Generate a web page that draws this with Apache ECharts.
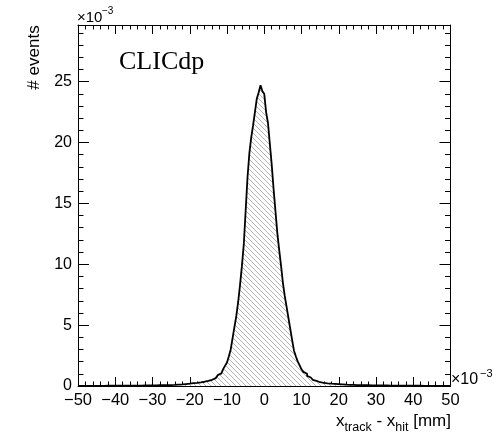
<!DOCTYPE html>
<html><head><meta charset="utf-8">
<script src="https://cdn.jsdelivr.net/npm/echarts@6/dist/echarts.min.js"></script>
<style>html,body{margin:0;padding:0;background:#fff}#c{width:497px;height:433px}</style>
</head><body><div id="c"></div>
<script>
// Histogram: bins of width 0.5 (x10^-3 mm) from -50 to 50; contents in units of 10^-3
const binLow = -50;
const binWidth = 0.5;
const countsNeg = [
  0.01,0.01,0.01,0.01,0.01,0.01,0.01,0.01,0.01,0.01,0.01,0.01,0.01,0.01,0.02,0.02,0.02,0.02,0.02,0.02,
  0.02,0.02,0.02,0.02,0.02,0.02,0.02,0.03,0.03,0.03,
  0.03,0.03,0.03,0.03,0.04,0.04,0.04,0.04,0.04,0.05,
  0.05,0.05,0.05,0.06,0.06,0.06,0.07,0.07,0.08,0.08,
  0.09,0.09,0.10,0.11,0.12,0.13,0.15,0.16,0.18,0.19,
  0.21,0.23,0.24,0.26,0.28,0.30,0.33,0.35,0.38,0.42,
  0.46,0.51,0.57,0.65,0.75,0.89,1.04,1.20,1.41,1.67,
  1.93,2.44,3.00,3.93,4.85,5.75,6.90,8.30,9.84,11.6,
  14.35,17.1,19.1,20.4,21.4,22.5,23.6,24.1,24.7,24.2
];
const countsPos = [
  24.0,22.5,21.6,19.9,18.2,16.2,14.4,12.6,11.2,9.9,
  8.5,7.4,6.5,5.57,4.66,3.75,2.88,2.42,2.0,1.69,
  1.37,1.16,1.0,0.83,0.70,0.59,0.51,0.43,0.36,0.31,
  0.28,0.26,0.24,0.22,0.21,0.19,0.18,0.17,0.16,0.15,
  0.14,0.13,0.12,0.11,0.10,0.10,0.09,0.09,0.08,0.08,
  0.07,0.07,0.07,0.06,0.06,0.06,0.05,0.05,0.05,0.05,
  0.04,0.04,0.04,0.04,0.04,0.04,0.03,0.03,0.03,0.03,
  0.03,0.03,0.02,0.02,0.02,0.02,0.02,0.02,0.02,0.02,
  0.02,0.02,0.02,0.02,0.01,0.01,0.01,0.01,0.01,0.01,0.01,0.01,0.01,0.01,0.01,0.01,0.01,0.01,0.01,0.01
];
const xTickLabels = [-50,-40,-30,-20,-10,0,10,20,30,40,50];
const yTickLabels = [0,5,10,15,20,25];
const xRange = [-50, 50];
const yMax = 29.65;
const xTitleParts = [['x', 'm'], ['track', 's'], [' - x', 'm'], ['hit', 's'], [' [mm]', 'm']];

const counts = countsNeg.concat(countsPos);
const data = counts.map((v, i) => [binLow + i * binWidth, v]);
data.push([binLow + counts.length * binWidth, counts[counts.length - 1]]);

// hatch pattern
const tile = 5;
const pc = document.createElement('canvas');
pc.width = tile; pc.height = tile;
const g = pc.getContext('2d');
g.fillStyle = '#fff'; g.fillRect(0, 0, tile, tile);
g.strokeStyle = '#a6a6a6'; g.lineWidth = 0.85;
g.beginPath();
g.moveTo(-1, -1); g.lineTo(tile + 1, tile + 1);
g.moveTo(-1, tile - 1); g.lineTo(1, tile + 1);
g.moveTo(tile - 1, -1); g.lineTo(tile + 1, 1);
g.stroke();

const FONT = "'Liberation Sans', Arial, Helvetica, sans-serif";
const minus = v => (v < 0 ? '\u2212' + Math.abs(v) : String(v));
const black = '#000';

// x-axis title pieces (main + subscripts), right-aligned to the axis end
const fonts = {m: '17px ' + FONT, s: '12.5px ' + FONT};
const mc = document.createElement('canvas').getContext('2d');
const widths = xTitleParts.map(p => { mc.font = fonts[p[1]]; return mc.measureText(p[0]).width; });
let xpos = 451 - widths.reduce((a, b) => a + b, 0);
const titleGraphics = xTitleParts.map((p, i) => {
  const el = {type: 'text', x: xpos, y: p[1] === 'm' ? 421.5 : 427.5,
    style: {text: p[0], font: fonts[p[1]], fill: black, textAlign: 'left', textVerticalAlign: 'middle'}};
  xpos += widths[i];
  return el;
});

const chart = echarts.init(document.getElementById('c'), null, {renderer: 'canvas'});
const xBase = {
  type: 'value', min: xRange[0], max: xRange[1], interval: 10,
  axisLine: {show: true, onZero: false, lineStyle: {color: black, width: 1}},
  axisTick: {show: true, inside: true, length: 9, lineStyle: {color: black, width: 1}},
  minorTick: {show: true, splitNumber: 5, length: 4.5, lineStyle: {color: black, width: 1}},
  splitLine: {show: false}, minorSplitLine: {show: false}
};
const yMajor = {
  type: 'value', min: 0, max: yMax, interval: 5,
  axisLine: {show: true, onZero: false, lineStyle: {color: black, width: 1}},
  axisTick: {show: true, inside: true, length: 11, lineStyle: {color: black, width: 1}},
  splitLine: {show: false}
};
const yMinor = {
  type: 'value', min: 0, max: yMax, interval: 1,
  axisLine: {show: false, onZero: false},
  axisTick: {show: true, inside: true, length: 5.5, lineStyle: {color: black, width: 1}},
  axisLabel: {show: false},
  splitLine: {show: false}
};

chart.setOption({
  animation: false,
  backgroundColor: '#fff',
  grid: {left: 78, right: 46.5, top: 25, bottom: 47, containLabel: false, outerBoundsMode: 'none'},
  xAxis: [
    Object.assign({}, xBase, {position: 'bottom',
      axisLabel: {show: true, margin: 6, fontSize: 16.5, color: black, fontFamily: FONT,
        formatter: v => (xTickLabels.indexOf(v) >= 0 ? minus(v) : '')}}),
    Object.assign({}, xBase, {position: 'top', axisLabel: {show: false}})
  ],
  yAxis: [
    Object.assign({}, yMajor, {position: 'left',
      axisLabel: {show: true, margin: 6, fontSize: 16, color: black, fontFamily: FONT, showMaxLabel: false,
        formatter: v => (yTickLabels.indexOf(v) >= 0 ? String(v) : '')}}),
    Object.assign({}, yMinor, {position: 'left'}),
    Object.assign({}, yMajor, {position: 'right', axisLabel: {show: false}}),
    Object.assign({}, yMinor, {position: 'right'})
  ],
  series: [{
    type: 'line', xAxisIndex: 0, yAxisIndex: 0,
    data: data, step: 'end', symbol: 'none', smooth: false,
    lineStyle: {color: black, width: 1.8},
    areaStyle: {color: {image: pc, repeat: 'repeat'}, opacity: 1, origin: 'start'}
  }],
  graphic: [
    {type: 'text', x: 119, y: 62.5, style: {text: 'CLICdp', font: "26px 'Liberation Serif', 'Times New Roman', serif", fill: black, textAlign: 'left', textVerticalAlign: 'middle'}},
    {type: 'text', x: 34.5, y: 57.5, rotation: Math.PI / 2, style: {text: '# events', font: '17px ' + FONT, fill: black, textAlign: 'center', textVerticalAlign: 'middle'}},
    {type: 'text', x: 77, y: 17.5, style: {text: '\u00d710', font: '15px ' + FONT, fill: black, textAlign: 'left', textVerticalAlign: 'middle'}},
    {type: 'text', x: 102, y: 11, style: {text: '\u22123', font: '10px ' + FONT, fill: black, textAlign: 'left', textVerticalAlign: 'middle'}},
    {type: 'text', x: 451, y: 380, style: {text: '\u00d710', font: '16px ' + FONT, fill: black, textAlign: 'left', textVerticalAlign: 'middle'}},
    {type: 'text', x: 480, y: 374, style: {text: '\u22123', font: '11px ' + FONT, fill: black, textAlign: 'left', textVerticalAlign: 'middle'}}
  ].concat(titleGraphics)
});
</script>
</body></html>
